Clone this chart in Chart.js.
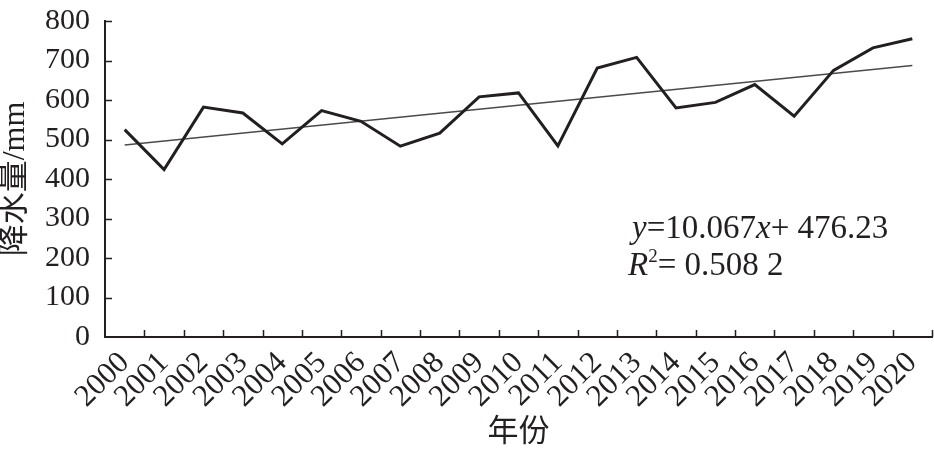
<!DOCTYPE html>
<html>
<head>
<meta charset="utf-8">
<script src="https://cdn.jsdelivr.net/npm/chart.js@4.4.1/dist/chart.umd.min.js"></script>
<style>
  html, body { margin: 0; padding: 0; background: #fff; }
  #wrap { width: 934px; height: 455px; }
</style>
</head>
<body>
<div id="wrap"><canvas id="c"></canvas></div>
<script>
const years = ['2000','2001','2002','2003','2004','2005','2006','2007','2008','2009','2010',
  '2011','2012','2013','2014','2015','2016','2017','2018','2019','2020'];
const precipitation = [525, 424, 582, 567, 489, 573, 546, 483, 516, 608, 618,
  484, 681, 708, 580, 594, 639, 559, 675, 732, 755];
const trendEnds = [486.3, 687.6];
const yTicks = [0, 100, 200, 300, 400, 500, 600, 700, 800];

const INK = '#231f20';
const SERIF = "'Liberation Serif', 'Times New Roman', 'Noto Sans CJK SC', serif";

const trend = years.map((_, i) => i === 0 ? trendEnds[0] : (i === years.length - 1 ? trendEnds[1] : null));

// inward tick marks + regression text
const decor = {
  id: 'decor',
  afterDraw(chart) {
    const { ctx, chartArea: a, scales: { x, y } } = chart;
    ctx.save();
    ctx.strokeStyle = INK;
    ctx.lineWidth = 1.5;
    ctx.beginPath();
    yTicks.forEach(v => {
      if (v === 0) return;
      const py = Math.round(y.getPixelForValue(v)) + 0.5;
      ctx.moveTo(a.left, py);
      ctx.lineTo(a.left + 7, py);
    });
    for (let i = 1; i <= years.length; i++) {
      const px = Math.round(x.getPixelForValue(i - 0.5)) + 0.5;
      ctx.moveTo(px, a.bottom);
      ctx.lineTo(px, a.bottom - 7);
    }
    ctx.stroke();

    ctx.fillStyle = INK;
    ctx.textBaseline = 'alphabetic';
    ctx.textAlign = 'left';
    const fs = 33;
    let tx = 632, ty = 238;
    ctx.font = 'italic ' + fs + 'px ' + SERIF;
    ctx.fillText('y', tx, ty);
    tx += ctx.measureText('y').width;
    ctx.font = fs + 'px ' + SERIF;
    ctx.fillText('=10.067', tx, ty);
    tx += ctx.measureText('=10.067').width;
    ctx.font = 'italic ' + fs + 'px ' + SERIF;
    ctx.fillText('x', tx, ty);
    tx += ctx.measureText('x').width;
    ctx.font = fs + 'px ' + SERIF;
    ctx.fillText('+ 476.23', tx, ty);

    tx = 628; ty = 275;
    ctx.font = 'italic ' + fs + 'px ' + SERIF;
    ctx.fillText('R', tx, ty);
    tx += ctx.measureText('R').width;
    ctx.font = '19px ' + SERIF;
    ctx.fillText('2', tx, ty - 13);
    tx += ctx.measureText('2').width;
    ctx.font = fs + 'px ' + SERIF;
    ctx.fillText('= 0.508 2', tx, ty);
    ctx.restore();
  }
};

new Chart(document.getElementById('c'), {
  type: 'line',
  data: {
    labels: years,
    datasets: [
      {
        data: precipitation,
        borderColor: INK,
        borderWidth: 3,
        pointRadius: 0,
        tension: 0,
        fill: false
      },
      {
        data: trend,
        borderColor: '#4a4a4a',
        borderWidth: 1.5,
        pointRadius: 0,
        spanGaps: true,
        fill: false
      }
    ]
  },
  options: {
    responsive: true,
    maintainAspectRatio: false,
    animation: false,
    layout: { padding: { top: 21, right: 2, left: 0, bottom: 0 } },
    plugins: { legend: { display: false }, tooltip: { enabled: false } },
    scales: {
      x: {
        offset: true,
        grid: { display: false },
        border: { display: true, color: INK, width: 2 },
        ticks: {
          color: INK,
          font: { family: SERIF, size: 31 },
          minRotation: 45,
          maxRotation: 45,
          autoSkip: false,
          padding: 0
        },
        title: {
          display: true,
          text: '年份',
          color: INK,
          font: { family: SERIF, size: 31 },
          padding: { top: 0, bottom: 4 }
        },
        afterFit(s) {
          s.height = 118;
          s.paddingLeft = 0;
          s.paddingRight = 0;
        }
      },
      y: {
        min: 0,
        max: 800,
        grid: { display: false },
        border: { display: true, color: INK, width: 2 },
        afterBuildTicks(s) { s.ticks = yTicks.map(v => ({ value: v })); },
        ticks: {
          color: INK,
          font: { family: SERIF, size: 30 },
          autoSkip: false,
          padding: 7
        },
        title: {
          display: true,
          text: '降水量/mm',
          color: INK,
          font: { family: SERIF, size: 32, lineHeight: 1 },
          padding: { top: 0, bottom: 0 }
        },
        afterFit(s) {
          s.width = 105;
          s.paddingTop = 0;
          s.paddingBottom = 0;
        }
      }
    }
  },
  plugins: [decor]
});
</script>
</body>
</html>
